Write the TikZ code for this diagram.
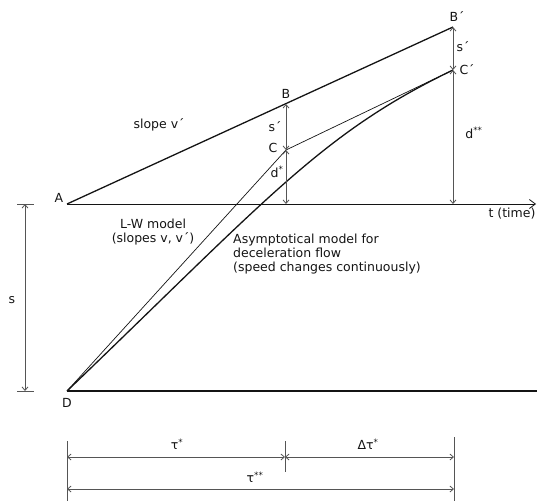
\documentclass[tikz,border=0pt]{standalone}
\usepackage{fontspec}
\setmainfont{DejaVu Sans}
\usetikzlibrary{arrows.meta}
\definecolor{inkblack}{RGB}{20,20,20}
\definecolor{dimgray}{RGB}{85,85,85}
\tikzset{
  mainline/.style={draw=inkblack, line width=1.3pt},
  thinline/.style={draw=inkblack, line width=0.7pt},
  axisline/.style={draw=inkblack, line width=0.8pt, -{Straight Barb[length=6pt,width=9pt]}},
  dimline/.style={draw=dimgray, line width=0.8pt,
    {Straight Barb[length=3.5pt,width=6pt]}-{Straight Barb[length=3.5pt,width=6pt]}},
  extline/.style={draw=dimgray, line width=0.8pt},
  lbl/.style={font=\fontsize{12.5}{14}\selectfont, inner sep=1pt, text=inkblack},
}

\begin{document}
\begin{tikzpicture}[x=1pt, y=-1pt]
  \useasboundingbox (0,0) rectangle (537,501);

  % points of the time--space plane
  \coordinate (A)      at (67,204);
  \coordinate (B)      at (286,104);
  \coordinate (Bp)     at (453,27);
  \coordinate (C)      at (286,150);
  \coordinate (Cp)     at (453,70);
  \coordinate (D)      at (67,391);
  \coordinate (Bfoot)  at (286,204);
  \coordinate (Bpfoot) at (453,204);
  \coordinate (tend)   at (536,204);
  \coordinate (Dend)   at (537,391);
  \coordinate (ctrlA)  at (268,198);
  \coordinate (ctrlB)  at (322,133);

  \draw[mainline] (A) -- (Bp);
  \draw[axisline] (A) -- (tend);
  \draw[mainline] (D) -- (Dend);
  \draw[thinline] (D) -- (C) -- (Cp);
  \draw[mainline] (D) .. controls (ctrlA) and (ctrlB) .. (Cp);

  \draw[dimline] (B) -- (C);
  \draw[dimline] (C) -- (Bfoot);
  \draw[dimline] (Bp) -- (Cp);
  \draw[dimline] (Cp) -- (Bpfoot);

  % s between the two horizontals
  \coordinate (sTop)  at (25,204);
  \coordinate (sBot)  at (25,391);
  \coordinate (sTopL) at (17,204);
  \coordinate (sTopR) at (34,204);
  \coordinate (sBotL) at (17,391);
  \coordinate (sBotR) at (34,391);
  \draw[extline] (sTopL) -- (sTopR);
  \draw[extline] (sBotL) -- (sBotR);
  \draw[dimline] (sTop) -- (sBot);

  % time spans below
  \coordinate (e0a) at (67,441);  \coordinate (e0b) at (67,501);
  \coordinate (e1a) at (285,441); \coordinate (e1b) at (285,472);
  \coordinate (e2a) at (454,437); \coordinate (e2b) at (454,501);
  \coordinate (m0) at (67,457);   \coordinate (m1) at (285,457);
  \coordinate (m2) at (454,457);
  \coordinate (n0) at (67,489);   \coordinate (n2) at (454,489);
  \draw[extline] (e0a) -- (e0b);
  \draw[extline] (e1a) -- (e1b);
  \draw[extline] (e2a) -- (e2b);
  \draw[dimline] (m0) -- (m1);
  \draw[dimline] (m1) -- (m2);
  \draw[dimline] (n0) -- (n2);

  \node[lbl] (lA)     at (59,198)  {A};
  \node[lbl] (lB)     at (286,94)  {B};
  \node[lbl] (lBp)    at (457,16)  {B´};
  \node[lbl] (lslope) at (159,125) {slope v´};
  \node[lbl] (lsB)    at (275,127) {s´};
  \node[lbl] (lC)     at (273,148) {C};
  \node[lbl] (ldC)    at (277,172) {d\textsuperscript{*}};
  \node[lbl] (lsBp)   at (463,47)  {s´};
  \node[lbl] (lCp)    at (467,70)  {C´};
  \node[lbl] (ldCp)   at (474,133) {d\textsuperscript{**}};
  \node[lbl] (ltime)  at (512,214) {t (time)};
  \node[lbl, align=center] (lLW) at (153,232) {L-W model\\(slopes v, v´)};
  \node[lbl, align=left, anchor=north west, inner sep=0pt] (lasym) at (233,234)
    {Asymptotical model for\\deceleration flow\\(speed changes continuously)};
  \node[lbl] (ls)     at (12,300)  {s};
  \node[lbl] (lD)     at (67,403)  {D};
  \node[lbl] (ltau)   at (177,444) {τ\textsuperscript{*}};
  \node[lbl] (ldtau)  at (368,444) {Δτ\textsuperscript{*}};
  \node[lbl] (ltautau) at (255,477) {τ\textsuperscript{**}};

\end{tikzpicture}
\end{document}
